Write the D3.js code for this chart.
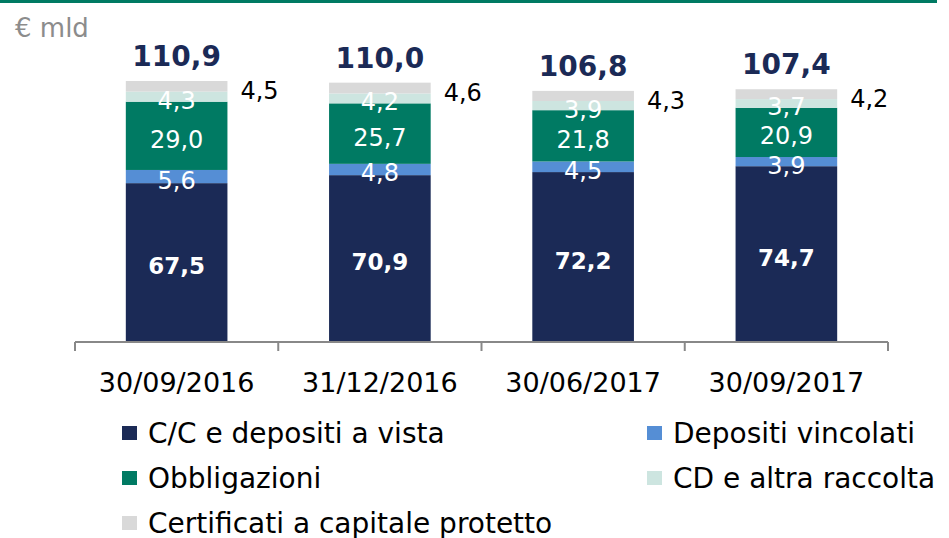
<!DOCTYPE html>
<html>
<head>
<meta charset="utf-8">
<script src="https://cdn.jsdelivr.net/npm/d3@7"></script>
<style>
  body { margin: 0; background: #fff; }
  svg { display: block; font-family: "DejaVu Sans", sans-serif; }
</style>
</head>
<body>
<div id="chart"></div>
<script>
	// date di riferimento
	var categories = ["30/09/2016", "31/12/2016", "30/06/2017", "30/09/2017"]
	var seriesNames = ["C/C e depositi a vista", "Depositi vincolati", "Obbligazioni", "CD e altra raccolta", "Certificati a capitale protetto"]
	var cc = [67.5, 70.9, 72.2, 74.7]
	var vincolati = [5.6, 4.8, 4.5, 3.9]
	var obbligazioni = [29.0, 25.7, 21.8, 20.9]
	var cd = [4.3, 4.2, 3.9, 3.7]
	var certificati = [4.5, 4.6, 4.3, 4.2]
	var totals = [110.9, 110.0, 106.8, 107.4]
	var colors = ["#1B2A56", "#558ED5", "#007A63", "#CDE5E0", "#D9D9D9"]

	var width = 949, height = 538
	var svg = d3.select("#chart").append("svg").attr("width", width).attr("height", height)

	var fmt = function(v){ return d3.format(".1f")(v).replace(".", ",") }

	var rows = categories.map(function(c, i){
		return {cat: c, s0: cc[i], s1: vincolati[i], s2: obbligazioni[i], s3: cd[i], s4: certificati[i], total: totals[i]}
	})
	var keys = ["s0", "s1", "s2", "s3", "s4"]
	var stacked = d3.stack().keys(keys)(rows)

	var x = d3.scaleBand().domain(categories).range([75, 888]).paddingInner(0.5).paddingOuter(0.25)
	var y = d3.scaleLinear().domain([0, 110.9]).range([342, 81])

	// linea verde in alto
	svg.append("rect").attr("x", 0).attr("y", 0).attr("width", 937).attr("height", 3).attr("fill", "#007A63")

	svg.append("text").attr("x", 15).attr("y", 37).text("€ mld")
		.style("font-size", "26px").style("fill", "#8C8C8C")

	var layers = svg.selectAll("g.layer").data(stacked).enter().append("g")
		.attr("class", "layer").attr("fill", function(d, i){ return colors[i] })

	layers.selectAll("rect").data(function(d){ return d }).enter().append("rect")
		.attr("x", function(d){ return x(d.data.cat) })
		.attr("width", x.bandwidth())
		.attr("y", function(d){ return y(d[1]) })
		.attr("height", function(d){ return y(d[0]) - y(d[1]) })

	// etichette segmenti
	stacked.forEach(function(layer, li){
		layer.forEach(function(d){
			var v = d[1] - d[0]
			var t = svg.append("text")
				.attr("y", (y(d[0]) + y(d[1])) / 2)
				.attr("dy", "0.5em")
				.text(fmt(v))
				.style("font-size", li == 0 ? "23px" : "24px")
			if(li == 4){
				t.attr("x", x(d.data.cat) + x.bandwidth() + 13).attr("dy", "0.55em").style("fill", "#000")
			} else {
				t.attr("x", x(d.data.cat) + x.bandwidth()/2).attr("text-anchor", "middle")
					.style("fill", "#fff").style("font-weight", li == 0 ? "bold" : "normal")
			}
		})
	})

	// totali
	svg.selectAll("text.total").data(rows).enter().append("text").attr("class", "total")
		.attr("x", function(d){ return x(d.cat) + x.bandwidth()/2 })
		.attr("y", function(d){ return y(d.s0 + d.s1 + d.s2 + d.s3 + d.s4) - 15 })
		.attr("text-anchor", "middle")
		.text(function(d){ return fmt(d.total) })
		.style("font-size", "28px").style("font-weight", "bold").style("fill", "#1B2A56")

	// asse x
	var ax = svg.append("g").attr("transform", "translate(0,342)")
	ax.append("line").attr("x1", 75).attr("x2", 888).attr("y1", 0).attr("y2", 0)
		.attr("stroke", "#888").attr("stroke-width", 2)
	var step = x.step()
	d3.range(categories.length + 1).forEach(function(i){
		var tx = x.range()[0] + i * step
		ax.append("line").attr("x1", tx).attr("x2", tx).attr("y1", 0).attr("y2", 9)
			.attr("stroke", "#888").attr("stroke-width", 2)
	})
	ax.selectAll("text").data(categories).enter().append("text")
		.attr("x", function(d){ return x(d) + x.bandwidth()/2 })
		.attr("y", 50)
		.attr("text-anchor", "middle")
		.text(function(d){ return d })
		.style("font-size", "27px").style("fill", "#000")

	// legenda
	var legendPos = [[122, 433], [647, 433], [122, 478], [647, 478], [122, 523]]
	var lg = svg.selectAll("g.legend").data(seriesNames).enter().append("g").attr("class", "legend")
		.attr("transform", function(d, i){ return "translate(" + legendPos[i][0] + "," + legendPos[i][1] + ")" })
	lg.append("rect").attr("x", 0).attr("y", -7).attr("width", 15).attr("height", 14)
		.attr("fill", function(d, i){ return colors[i] })
	lg.append("text").attr("x", 26).attr("y", 0).attr("dy", "0.36em")
		.text(function(d){ return d })
		.style("font-size", "28px").style("fill", "#000")
</script>
</body>
</html>
